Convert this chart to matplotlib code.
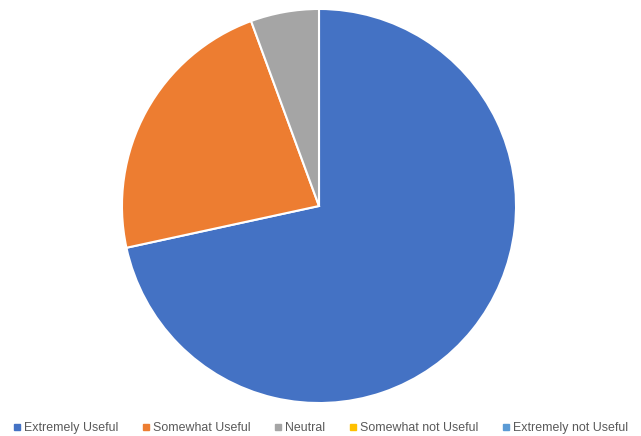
import numpy as np
import matplotlib.pyplot as plt
from matplotlib.lines import Line2D

labels = ["Extremely Useful", "Somewhat Useful", "Neutral",
          "Somewhat not Useful", "Extremely not Useful"]
shares = [71.6, 22.8, 5.6, 0, 0]
colors = ["#4472C4", "#ED7D31", "#A5A5A5", "#FFC000", "#5B9BD5"]

plt.rcParams['font.family'] = ['Liberation Sans', 'DejaVu Sans']

W, H = 641, 436
fig = plt.figure(figsize=(W / 100, H / 100), dpi=100)

# pie area: centre ~ (319, 206) px, radius ~ 199 px
cx, cy, r = 319, 206, 199
ax = fig.add_axes([(cx - r) / W, (H - cy - r) / H, 2 * r / W, 2 * r / H])
nz = [(s, col) for s, col in zip(shares, colors) if s > 0]
ax.pie([s for s, _ in nz], colors=[col for _, col in nz], startangle=90,
       counterclock=False, radius=1,
       wedgeprops=dict(edgecolor="white", linewidth=1.5))
ax.set_xlim(-1.01, 1.01)
ax.set_ylim(-1.01, 1.01)
ax.set_aspect('equal')
ax.axis('off')

handles = [Line2D([0], [0], marker='s', linestyle='none', markersize=4.5,
                  markerfacecolor=c, markeredgecolor=c) for c in colors]
fig.legend(handles, labels, loc='center', bbox_to_anchor=(0.5, (H - 428) / H),
           ncol=5, frameon=False, fontsize=8.9, handlelength=0.6,
           handletextpad=0.3, columnspacing=1.9, labelcolor="#595959")

fig.savefig("out.png", dpi=100)
